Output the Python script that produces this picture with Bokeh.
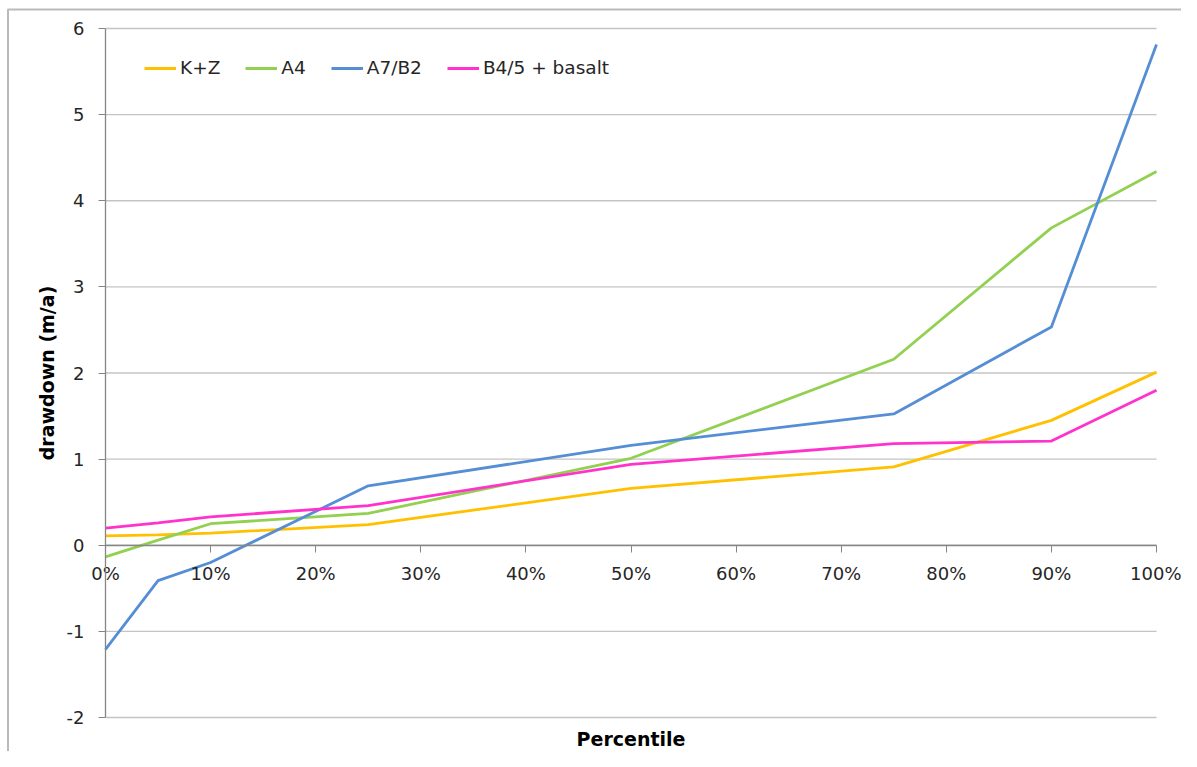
from bokeh.plotting import figure
from bokeh.models import (FixedTicker, PrintfTickFormatter, Range1d, Legend, LegendItem,
                          Label, LinearAxis, BoxAnnotation)
from bokeh.embed import file_html
from bokeh.resources import INLINE

# ---------------- data ----------------
percentiles = [0, 5, 10, 25, 50, 75, 90, 100]
kz = [0.11, 0.12, 0.14, 0.24, 0.66, 0.91, 1.45, 2.01]
a4 = [-0.135, 0.06, 0.25, 0.37, 1.01, 2.16, 3.685, 4.34]
a7b2 = [-1.21, -0.41, -0.20, 0.69, 1.16, 1.525, 2.535, 5.815]
b45 = [0.20, 0.26, 0.33, 0.46, 0.94, 1.18, 1.21, 1.80]

series_names = ["K+Z", "A4", "A7/B2", "B4/5 + basalt"]
series_values = [kz, a4, a7b2, b45]
colors = ["#FFC000", "#92D050", "#558ED5", "#FF33CC"]

x_ticks = list(range(0, 101, 10))
y_ticks = list(range(-2, 7))

# ---------------- layout ----------------
W, H = 1181, 751
PX_LEFT, PX_RIGHT = 105, 1156      # screen x of 0% and 100%
PX_TOP, PX_BOTTOM = 28, 717        # screen y of 6 and -2
x_lo, x_hi = x_ticks[0], x_ticks[-1]
y_lo, y_hi = y_ticks[0], y_ticks[-1]
sx = (PX_RIGHT - PX_LEFT) / (x_hi - x_lo)
sy = (PX_BOTTOM - PX_TOP) / (y_hi - y_lo)
x_start = x_lo - PX_LEFT / sx
x_end = x_start + W / sx
y_end = y_hi + PX_TOP / sy
y_start = y_end - H / sy

FONT = "DejaVu Sans"
TXT = "#262626"
AX = "#868686"

p = figure(width=W, height=H, output_backend="svg", toolbar_location=None,
           x_range=Range1d(x_start, x_end), y_range=Range1d(y_start, y_end),
           x_axis_location=None, y_axis_location=None,
           min_border=0, min_border_left=0, min_border_right=0,
           min_border_top=0, min_border_bottom=0)
p.outline_line_color = None
p.background_fill_color = "white"
p.border_fill_color = "white"
p.xgrid.visible = False
p.ygrid.visible = False

# chart-area border (top / left visible)
p.add_layout(BoxAnnotation(left=x_start + 7.5 / sx, top=y_end - 9 / sy,
                           right=x_end + 10, bottom=y_start - 1,
                           fill_alpha=0, line_color="#1A1A1A", line_width=2))

# horizontal gridlines
p.segment(x0=[x_lo] * len(y_ticks), x1=[x_hi] * len(y_ticks), y0=y_ticks, y1=y_ticks,
          line_color="#C4C4C4", line_width=1.3)

renderers = []
for name, vals, c in zip(series_names, series_values, colors):
    r = p.line(percentiles, vals, line_color=c, line_width=2.8)
    renderers.append((name, r))

# x axis crossing at y=0
xa = LinearAxis(fixed_location=0, bounds=(x_lo, x_hi),
                ticker=FixedTicker(ticks=x_ticks),
                formatter=PrintfTickFormatter(format="%d%%"))
xa.axis_line_color = AX
xa.axis_line_width = 1.3
xa.major_tick_line_color = AX
xa.major_tick_out = 7
xa.major_tick_in = 0
xa.minor_tick_line_color = None
xa.major_label_text_font = FONT
xa.major_label_text_font_size = "18px"
xa.major_label_text_color = TXT
xa.major_label_standoff = 11
p.add_layout(xa, "below")

# y axis at x=0
ya = LinearAxis(fixed_location=0, bounds=(y_lo, y_hi),
                ticker=FixedTicker(ticks=y_ticks),
                formatter=PrintfTickFormatter(format="%d"))
ya.axis_line_color = AX
ya.axis_line_width = 1.3
ya.major_tick_line_color = AX
ya.major_tick_out = 7
ya.major_tick_in = 0
ya.minor_tick_line_color = None
ya.major_label_text_font = FONT
ya.major_label_text_font_size = "18px"
ya.major_label_text_color = TXT
ya.major_label_standoff = 14
ya.axis_label = "drawdown (m/a)"
ya.axis_label_text_font = FONT
ya.axis_label_text_font_size = "19px"
ya.axis_label_text_font_style = "bold"
ya.axis_label_text_color = "#000000"
ya.axis_label_standoff = 6
p.add_layout(ya, "left")

p.add_layout(Label(x=(x_lo + x_hi) / 2, y=y_lo, x_units="data", y_units="data", y_offset=-21,
                   text="Percentile", text_align="center", text_baseline="middle",
                   text_font=FONT, text_font_size="19px", text_font_style="bold",
                   text_color="#000000"))

legend = Legend(items=[LegendItem(label=n, renderers=[r]) for n, r in renderers],
                orientation="horizontal", location=(144, 673),
                border_line_color=None, background_fill_alpha=0,
                label_text_font=FONT, label_text_font_size="18.5px",
                label_text_color=TXT, glyph_width=32, label_standoff=4,
                spacing=25, padding=4, margin=0)
p.add_layout(legend)

open("out.html", "w").write(file_html(p, INLINE))
